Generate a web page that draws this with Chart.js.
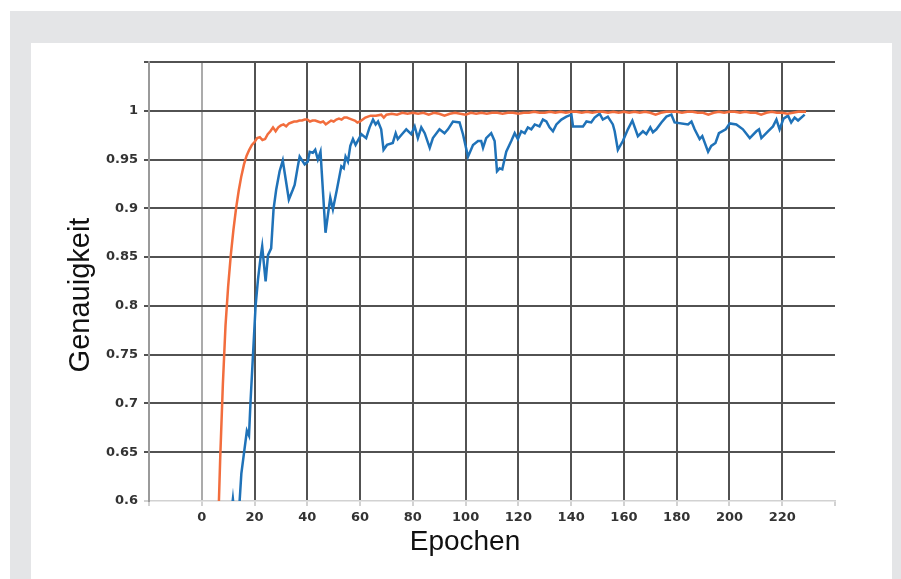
<!DOCTYPE html>
<html>
<head>
<meta charset="utf-8">
<script src="https://cdn.jsdelivr.net/npm/chart.js@4"></script>
<style>
  html, body { margin: 0; padding: 0; width: 901px; height: 579px; background: #ffffff; overflow: hidden; }
  #bg { position: absolute; left: 10px; top: 11px; width: 891px; height: 568px; background: #e4e5e7; }
  #card { position: absolute; left: 31px; top: 43px; width: 861px; height: 536px; background: #ffffff; }
  #wrap { position: absolute; left: 0; top: 0; width: 901px; height: 579px; }
</style>
</head>
<body>
<div id="bg"></div>
<div id="card"></div>
<div id="wrap"><canvas id="c" width="901" height="579"></canvas></div>
<script>
// ---- data ----
const trainEpochs = [6,7,8,9,10,11,12,13,14,15,16,17,18,19,20,21,22,23,24,25,26,27,28,29,30,31,32,33,34,35,36,37,38,39,40,41,42,43,44,45,46,47,48,49,50,51,52,53,54,55,56,57,58,59,60,61,62,63,64,66,68,69,
  70,72,74,76,78,80,82,84,86,88,90,92,94,96,98,100,102,104,106,108,110,112,114,116,118,120,122,124,126,128,130,132,134,136,138,140,142,144,146,148,150,152,154,156,158,160,162,164,166,168,170,172,174,176,178,180,182,184,186,188,190,192,194,196,198,200,202,204,206,208,210,212,214,216,218,220,222,224,226,229];
const trainAcc = [0.555,0.645,0.72,0.78,0.82,0.852,0.878,0.90,0.918,0.933,0.945,0.954,0.960,0.965,0.968,0.972,0.973,0.970,0.971,0.976,0.979,0.983,0.979,0.983,0.985,0.986,0.984,0.987,0.988,0.989,0.989,0.990,0.990,0.991,0.991,0.989,0.990,0.990,0.989,0.988,0.989,0.986,0.988,0.990,0.989,0.991,0.992,0.991,0.993,0.993,0.992,0.991,0.990,0.988,0.989,0.991,0.993,0.994,0.995,0.995,0.996,0.993,
  0.996,0.997,0.996,0.998,0.997,0.998,0.997,0.998,0.996,0.998,0.997,0.995,0.997,0.998,0.997,0.996,0.998,0.997,0.998,0.997,0.998,0.998,0.997,0.998,0.998,0.997,0.998,0.998,0.999,0.998,0.998,0.999,0.998,0.999,0.998,0.999,0.999,0.998,0.999,0.998,0.999,0.999,0.998,0.999,0.998,0.999,0.998,0.999,0.998,0.999,0.998,0.996,0.998,0.999,0.999,0.999,0.998,0.999,0.999,0.998,0.998,0.996,0.998,0.999,0.998,0.999,0.999,0.998,0.999,0.998,0.998,0.996,0.998,0.999,0.998,0.998,0.997,0.998,0.999,0.999];

const valEpochs = [10,11.8,13,14.3,15,16,17.1,17.9,18.5,19.4,20.4,21.3,22.3,22.9,24.2,25.1,26.3,27.2,28.2,29.5,30.7,33,34.5,35.2,36.4,37.1,39,40.2,40.9,42.1,43,44,45,46.9,48.7,49.7,51.2,52.9,53.8,54.5,55.4,56.3,57.3,58.3,60.5,62.3,63.6,64.9,65.9,66.8,68,68.9,70.2,72.4,73.5,74.3,76.2,77.5,79.4,80.7,81.9,83.2,84.5,86.4,87.6,90.1,92,93.3,95.2,97.7,99,100.9,102.8,104.7,105.9,106.6,107.8,109.7,111,111.9,112.9,113.9,115.4,117.3,118.6,119.8,121.1,122.4,123.6,124.9,126.2,128,129.3,130.6,131.8,133.1,134.4,136.3,138.2,140.1,140.7,144.5,145.8,147.6,148.9,150.8,152,153.9,155.8,156.5,157.7,159.6,161.5,163.2,165.3,167.2,168.5,170,171,172.3,174.2,176.1,178,179.2,184.3,185.6,186.8,188.7,189.7,191.9,193.1,194.7,196,198.6,200.1,202.6,205.1,207.7,210.2,211.2,212.1,214.6,216.5,217.8,219,220.5,222.2,223.4,224.7,226,228.5];
const valAcc = [0.56,0.602,0.57,0.598,0.628,0.649,0.672,0.667,0.703,0.749,0.80,0.827,0.85,0.861,0.825,0.852,0.859,0.899,0.919,0.938,0.949,0.909,0.919,0.924,0.943,0.953,0.945,0.948,0.958,0.957,0.960,0.950,0.958,0.875,0.911,0.899,0.919,0.943,0.941,0.953,0.948,0.964,0.971,0.965,0.976,0.972,0.983,0.991,0.986,0.989,0.981,0.960,0.965,0.967,0.977,0.971,0.977,0.981,0.976,0.984,0.972,0.983,0.977,0.962,0.972,0.981,0.977,0.981,0.989,0.988,0.976,0.953,0.965,0.969,0.969,0.962,0.972,0.977,0.969,0.938,0.941,0.940,0.958,0.969,0.977,0.971,0.979,0.977,0.983,0.981,0.986,0.984,0.991,0.989,0.983,0.979,0.986,0.991,0.994,0.996,0.984,0.984,0.989,0.988,0.993,0.997,0.991,0.994,0.986,0.979,0.960,0.969,0.981,0.990,0.974,0.979,0.976,0.983,0.978,0.981,0.988,0.994,0.996,0.988,0.986,0.989,0.981,0.971,0.974,0.958,0.964,0.967,0.977,0.981,0.987,0.986,0.981,0.972,0.979,0.981,0.972,0.979,0.984,0.991,0.981,0.992,0.995,0.988,0.993,0.990,0.996];

const xMin = -20, xMax = 240, xStep = 20;
const yMin = 0.6, yMax = 1.05, yStep = 0.05;
const xTitle = 'Epochen';
const yTitle = 'Genauigkeit';

const toPts = (xs, ys) => xs.map((x, i) => ({ x: x, y: ys[i] }));

const DARK = '#525252', LIGHT = '#ababab', NONE = 'rgba(0,0,0,0)';
const tickFont = { family: 'DejaVu Sans', size: 13, weight: 'bold' };

const shiftTitles = {
  id: 'shiftTitles',
  afterLayout(chart) {
    const xt = chart.scales.xT, yt = chart.scales.yT;
    if (xt) { xt.left = 95; xt.right = chart.chartArea.right; }
    if (yt) { yt.top = 89; yt.bottom = chart.chartArea.bottom; }
  }
};

new Chart(document.getElementById('c'), {
  type: 'line',
  data: {
    datasets: [
      { label: 'Training', data: toPts(trainEpochs, trainAcc), borderColor: '#f26d3d', borderWidth: 2.5, pointRadius: 0, tension: 0, clip: 0, fill: false },
      { label: 'Validierung', data: toPts(valEpochs, valAcc), borderColor: '#1f72b8', borderWidth: 2.5, pointRadius: 0, tension: 0, clip: 0, fill: false }
    ]
  },
  options: {
    responsive: false,
    animation: false,
    events: [],
    layout: { padding: { left: 0, right: 66, top: 62, bottom: 0 } },
    plugins: { legend: { display: false }, tooltip: { enabled: false }, title: { display: false } },
    scales: {
      x: {
        type: 'linear', position: 'bottom', weight: 0,
        min: xMin, max: xMax,
        afterFit(s) { s.height = 78; },
        ticks: {
          stepSize: xStep, autoSkip: false, maxRotation: 0, padding: 4,
          color: '#333', font: tickFont,
          callback: v => (v < 0 || v > 230) ? '' : String(v)
        },
        grid: {
          lineWidth: 2, tickLength: 5, tickColor: '#d2d2d2',
          color: c => { const v = c.tick && c.tick.value; if (v === 240) return NONE; if (v === -20 || v === 0) return LIGHT; return DARK; }
        },
        border: { display: true, color: '#d2d2d2', width: 1.5 },
        title: { display: false }
      },
      y: {
        type: 'linear', position: 'left', weight: 0,
        min: yMin, max: yMax,
        afterFit(s) { s.width = 149; },
        ticks: {
          stepSize: yStep, autoSkip: false, padding: 6,
          color: '#333', font: tickFont,
          callback: v => v > 1.0001 ? '' : String(+v.toFixed(2))
        },
        grid: {
          lineWidth: 2, tickLength: 5,
          color: c => { const v = c.tick && c.tick.value; if (v !== undefined && Math.abs(v - 0.6) < 1e-6) return NONE; return DARK; },
          tickColor: c => { const v = c.tick && c.tick.value; if (v !== undefined && Math.abs(v - 0.6) < 1e-6) return '#d2d2d2'; return DARK; }
        },
        border: { display: true, color: '#9a9a9a', width: 2 },
        title: { display: false }
      },
      xT: {
        type: 'linear', position: 'bottom', weight: 1, min: 0, max: 1,
        afterFit(s) { s.height = 0; },
        ticks: { display: false }, grid: { display: false, drawTicks: false }, border: { display: false },
        title: { display: true, text: xTitle, color: '#111', font: { family: 'Liberation Sans', size: 28 }, padding: { top: 0, bottom: 20 } }
      },
      yT: {
        type: 'linear', position: 'left', weight: 1, min: 0, max: 1,
        afterFit(s) { s.width = 0; },
        ticks: { display: false }, grid: { display: false, drawTicks: false }, border: { display: false },
        title: { display: true, text: yTitle, color: '#111', font: { family: 'Liberation Sans', size: 29 }, padding: { top: 64, bottom: 0 } }
      }
    }
  },
  plugins: [shiftTitles]
});
</script>
</body>
</html>
